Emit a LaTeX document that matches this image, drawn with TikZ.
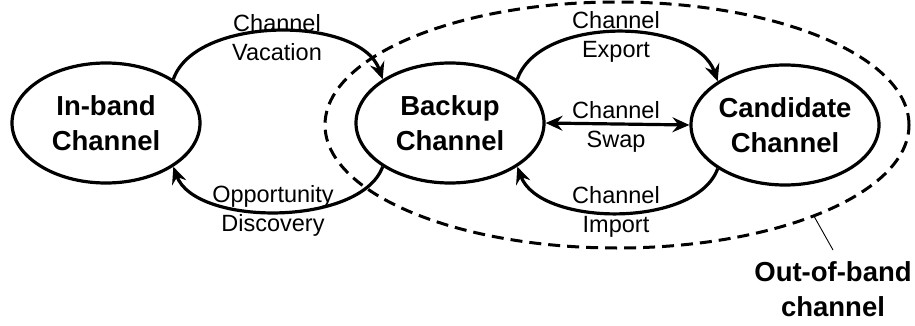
\documentclass[tikz,border=0pt]{standalone}
\usepackage{fontspec}
\setmainfont{Liberation Sans}
\usetikzlibrary{shapes.geometric,arrows.meta}

\tikzset{
  state/.style={draw, ellipse, line width=3.2pt, minimum width=188pt, minimum height=120pt,
    inner sep=0pt, align=center, font=\fontsize{27.5}{35}\selectfont\bfseries},
  region/.style={draw, ellipse, dashed, dash pattern=on 12pt off 7pt, line width=3pt,
    minimum width=584pt, minimum height=246pt, inner sep=0pt},
  tip/.style={Stealth[length=17pt,width=15pt,inset=6pt]},
  trans/.style={line width=3.2pt, -{Stealth[length=17pt,width=15pt,inset=6pt]}},
  swap/.style={line width=3.2pt, {Stealth[length=17pt,width=15pt,inset=6pt]}-{Stealth[length=17pt,width=15pt,inset=6pt]}},
  lbl/.style={align=center, inner sep=0pt, font=\fontsize{23.5}{29}\selectfont},
  leader/.style={line width=0.9pt}
}

\begin{document}
\begin{tikzpicture}[x=1pt, y=-1pt]
  \useasboundingbox[fill=white] (0,0) rectangle (915,326);

  % out-of-band region
  \node[region] (oob) at (617,125) {};

  % channel states
  \node[state] (inband) at (106,123) {In-band\\Channel};
  \node[state] (backup) at (450,123) {Backup\\Channel};
  \node[state] (cand) at (785,125) {Candidate\\Channel};

  % transitions between in-band and backup
  \draw[trans] (inband.33) .. controls +(22,-64) and +(-22,-64) .. (backup.147);
  \draw[trans] (backup.213) .. controls +(-22,60) and +(22,60) .. (inband.327);

  % transitions between backup and candidate
  \draw[trans] (backup.33) .. controls +(22,-64) and +(-22,-64) .. (cand.147);
  \draw[trans] (cand.213) .. controls +(-22,60) and +(22,60) .. (backup.327);
  \draw[swap] (backup.east) -- (cand.west);

  % transition labels
  \node[lbl] (lvac) at (277,38) {Channel\\Vacation};
  \node[lbl] (lopp) at (273,211) {Opportunity\\Discovery};
  \node[lbl] (lexp) at (616,37) {Channel\\Export};
  \node[lbl] (lswp) at (616,127) {Channel\\Swap};
  \node[lbl] (limp) at (616,212) {Channel\\Import};

  % region label with leader
  \node[align=center, inner sep=0pt, font=\fontsize{27.5}{35}\selectfont\bfseries] (oobl) at (833,289) {Out-of-band\\channel};
  \coordinate (leadend) at (833,250);
  \draw[leader] (oob.-25) -- (leadend);
\end{tikzpicture}
\end{document}
